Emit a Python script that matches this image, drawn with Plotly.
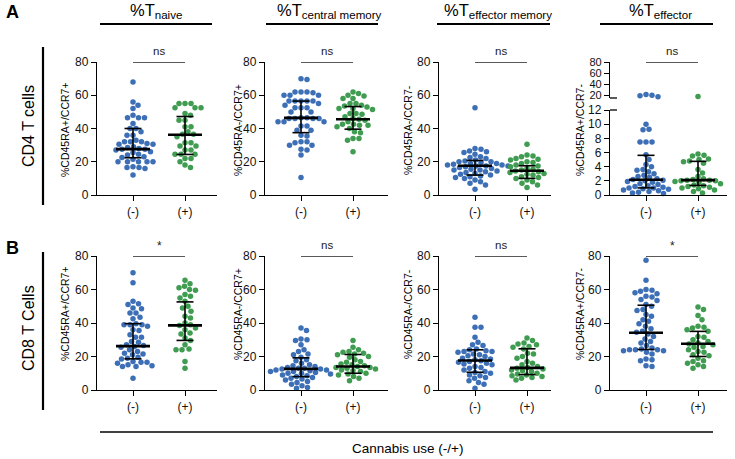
import numpy as np
import plotly.graph_objects as go

# ---- data ----
headers = ['naive', 'central memory', 'effector memory', 'effector']
y_titles = ['%CD45RA+/CCR7+', '%CD45RA-/CCR7+', '%CD45RA-/CCR7-', '%CD45RA+/CCR7-']
x_labels = ['(-)', '(+)']
cd4_sig = ['ns', 'ns', 'ns', 'ns']
cd8_sig = ['*', 'ns', 'ns', '*']

cd4_naive_neg = [68, 56, 54, 52, 48, 46.5, 46.5, 46.5, 43, 40, 40, 38, 36, 36, 33, 32, 32, 32, 31, 30.5,
                 30.5, 29, 28.5, 28, 27.5, 27.5, 27, 26, 25.5, 24.5, 24, 23, 22.5, 21.5, 20, 20, 20, 20,
                 20, 17, 16.5, 16.5, 16, 12]
cd4_naive_pos = [55, 55, 55, 52.5, 52.5, 52.5, 49, 48, 45, 45, 41, 41, 38, 36.5, 36.5, 35, 31.5, 31.5,
                 29.5, 29.5, 27, 27, 24.5, 24.5, 24.5, 22, 22, 20, 18, 16.5]
cd4_cm_neg = [70, 69.5, 62, 62, 62, 61.5, 60, 60, 60, 56.5, 56.5, 56.5, 56.5, 56.5, 55, 54, 52.5, 52.5,
              52.5, 50, 50, 46.5, 46.5, 46, 46, 46, 46, 44, 44, 44, 41.5, 41.5, 39, 39, 36, 35.5, 32,
              32, 31.5, 30, 30, 27.5, 27, 24, 10.5]
cd4_cm_pos = [62, 61, 60, 59.5, 58, 58, 55, 55, 54, 53.5, 53, 52, 52, 51.5, 49, 49, 48.5, 47, 46, 45.5,
              45, 44, 42.5, 42.5, 42, 42, 41, 40, 38, 37.5, 34, 34, 33, 26]
cd4_em_neg = [52.5, 28, 27.5, 26.5, 26, 25.5, 24.5, 23, 22.5, 22, 21, 20.5, 20, 20, 19.5, 19, 19, 18.5,
              18, 18, 17.5, 17.5, 17.5, 17, 16.5, 16, 15.5, 15, 15, 14.5, 14, 13.5, 13, 12.5, 12, 11.5,
              11, 10.5, 10, 9, 8, 7, 6, 3.5]
cd4_em_pos = [30.5, 24, 23.5, 23, 22, 21.5, 21, 20, 19.5, 19, 18, 17.5, 17, 16, 15.5, 15, 14.5, 14, 13.5,
              13, 12.5, 12, 11, 10.5, 10, 9, 8, 7, 6, 4.5]
cd4_eff_neg = [21, 19.5, 18.5, 17, 10, 9.3, 9.2, 7.5, 7.5, 7.5, 5.7, 5.0, 4.3, 4.0, 3.6, 3.5, 3.3, 3.0,
               2.8, 2.6, 2.5, 2.3, 2.2, 2.1, 2.0, 1.9, 1.8, 1.6, 1.5, 1.3, 1.2, 1.1, 1.0, 1.0, 0.9, 0.8,
               0.7, 0.6, 0.5, 0.4, 0.3, 0.2]
cd4_eff_pos = [17.5, 5.8, 5.6, 5.5, 5.1, 5.0, 4.8, 4.7, 4.5, 3.6, 3.1, 2.6, 2.3, 2.2, 2.1, 2.1, 2.0, 2.0,
               1.9, 1.8, 1.6, 1.4, 1.3, 1.2, 1.1, 1.0, 0.9, 0.7, 0.5, 0.3]

cd8_naive_neg = [70, 64, 53, 51.5, 51, 49, 48.5, 46, 46, 43.5, 42.5, 39.5, 39, 39, 39, 38, 36, 35.5, 33,
                 31.5, 31.5, 29, 28.5, 27, 26.5, 26, 25.5, 24, 23, 22, 21.5, 21, 19.5, 19, 18.5, 17, 16.5,
                 16.5, 16, 15, 14.5, 14, 14, 7]
cd8_naive_pos = [65.5, 63.5, 62, 61, 60, 59.5, 57, 56, 55, 53, 50, 49, 47, 44, 43, 40, 39, 38.5, 37, 36,
                 34, 33.5, 31, 29.5, 27, 24.5, 24, 24, 17, 13]
cd8_cm_neg = [37, 35.5, 30.5, 30, 29.5, 27, 24, 23, 21.5, 21, 19.5, 18, 17.5, 16, 15, 14.5, 14, 13.5, 13,
              13, 12.5, 12.5, 12, 12, 11.5, 11, 11, 10.5, 10, 10, 9.5, 9, 8.5, 8, 7.5, 7, 6.5, 6, 5, 4.5,
              3.5, 2.5, 1.5, 1]
cd8_cm_pos = [29.5, 25.5, 24, 23, 22.5, 22, 21.5, 21, 20, 19.5, 18, 17, 16.5, 15.5, 15, 14.5, 14, 13.5,
              13.5, 13, 12.5, 12, 11.5, 11, 10, 9.5, 9, 8, 7, 5.5]
cd8_em_neg = [43.5, 37.5, 37.5, 31.5, 28.5, 27, 26.5, 24.5, 24, 23.5, 23, 23, 22.5, 21.5, 21, 20.5, 20,
              19, 18.5, 18, 17.5, 17, 16.5, 16, 15.5, 15, 14, 13.5, 13, 12, 11, 10.5, 10, 9, 8.5, 7.5, 7,
              5.5, 4.5, 3.5, 1]
cd8_em_pos = [31, 29.5, 28, 27.5, 27, 26, 25.5, 24.5, 22, 21.5, 20, 19, 17, 16, 15, 14, 13.5, 13, 12.5,
              12, 11.5, 11, 10, 9.5, 9, 8.5, 8, 7.5, 7, 6]
cd8_eff_neg = [77.5, 65.5, 60, 59.5, 59, 58, 57.5, 56, 55.5, 54, 53.5, 51, 50, 48, 47.5, 45, 44, 42, 41,
               39.5, 38, 36.5, 35, 34.5, 33.5, 32, 30.5, 29, 28, 26.5, 25, 24.5, 24, 24, 24, 23.5, 23.5,
               22.5, 21.5, 18.5, 18, 17.5, 14.5, 14]
cd8_eff_pos = [49.5, 48, 44.5, 42, 38, 37.5, 37, 36, 35, 32, 31.5, 30, 29, 28, 27.5, 27, 26, 25.5, 24, 23,
               22.5, 21, 20.5, 19, 17.5, 17, 16, 15, 14, 13]

# median / interquartile range drawn in the reference
cd4_med_neg = [27.6, 46.4, 17.6, 2.15]
cd4_q1_neg = [22.4, 37.5, 12.0, 1.0]
cd4_q3_neg = [40.0, 56.5, 20.8, 5.6]
cd4_med_pos = [36.2, 45.6, 14.6, 2.1]
cd4_q1_pos = [24.4, 39.6, 10.0, 1.35]
cd4_q3_pos = [47.2, 53.2, 17.6, 4.75]
cd8_med_neg = [26.2, 12.6, 17.6, 34.2]
cd8_q1_neg = [18.6, 8.0, 10.6, 24.2]
cd8_q3_neg = [39.6, 19.2, 24.0, 50.6]
cd8_med_pos = [38.6, 14.0, 13.2, 27.6]
cd8_q1_pos = [29.6, 10.0, 9.2, 20.0]
cd8_q3_pos = [52.6, 21.2, 24.6, 35.0]

W, H = 735, 459
BLUE = '#3d6fb6'
GREEN = '#3f9c50'
FONT = 'Liberation Sans, Arial, sans-serif'


def px(x):
    return x / W


def py(y):
    return 1 - y / H


def swarm(pix, step=0.5, dmin=5.7):
    # simple beeswarm in pixel space, returns horizontal offsets in px
    pix = np.asarray(pix, float)
    order = np.argsort(pix)
    cands = [0.0]
    for k in range(1, 140):
        cands += [k * step, -k * step]
    placed = []
    off = np.zeros(len(pix))
    for i in order:
        for c in cands:
            if all((c - ox) ** 2 + (pix[i] - oy) ** 2 >= dmin ** 2 for ox, oy in placed):
                off[i] = c
                placed.append((c, pix[i]))
                break
    return off


x0s = [97, 265, 439, 610]
x_ends = [217, 388, 551, 727]
UNIT = 52.0  # px between the two groups
rows = [dict(top=62, bot=195), dict(top=256, bot=390)]

cd4 = [(cd4_naive_neg, cd4_naive_pos), (cd4_cm_neg, cd4_cm_pos),
       (cd4_em_neg, cd4_em_pos), (cd4_eff_neg, cd4_eff_pos)]
cd8 = [(cd8_naive_neg, cd8_naive_pos), (cd8_cm_neg, cd8_cm_pos),
       (cd8_em_neg, cd8_em_pos), (cd8_eff_neg, cd8_eff_pos)]
stats = [
    (cd4_med_neg, cd4_q1_neg, cd4_q3_neg, cd4_med_pos, cd4_q1_pos, cd4_q3_pos),
    (cd8_med_neg, cd8_q1_neg, cd8_q3_neg, cd8_med_pos, cd8_q1_pos, cd8_q3_pos),
]

# broken axis for CD4 effector panel
LOW_TOP, LOW_MAX = 110, 12
UP_BOT, UP_MIN = 98, 14.55

fig = go.Figure()
layout = dict(width=W, height=H, margin=dict(l=0, r=0, t=0, b=0), autosize=False,
              paper_bgcolor='white', plot_bgcolor='white', showlegend=False,
              font=dict(family=FONT, color='black'))

axis_common = dict(showline=True, linecolor='black', linewidth=1.3, ticks='outside', ticklen=5,
                   tickwidth=1.3, tickcolor='black', showgrid=False, zeroline=False, automargin=False,
                   tickfont=dict(size=12, family=FONT, color='#111'), fixedrange=True)

annotations = []
shapes = []


def note(x, y, text, size, angle=0, xa='center', ya='middle', **kw):
    annotations.append(dict(xref='paper', yref='paper', x=px(x), y=py(y), text=text, showarrow=False,
                            xanchor=xa, yanchor=ya, textangle=angle, font=dict(size=size), **kw))


for r, (row_data, row_sig) in enumerate([(cd4, cd4_sig), (cd8, cd8_sig)]):
    top, bot = rows[r]['top'], rows[r]['bot']
    med_n, q1_n, q3_n, med_p, q1_p, q3_p = stats[r]
    for c in range(4):
        k = r * 4 + c + 1
        x0, xe = x0s[c], x_ends[c]
        layout[f'xaxis{k}'] = dict(axis_common, domain=[px(x0), px(xe)],
                                   range=[-36 / UNIT, (xe - x0 - 36) / UNIT], anchor=f'y{k}',
                                   tickvals=[0, 1], ticktext=x_labels)
        broken = (r == 0 and c == 3)
        if broken:
            layout[f'yaxis{k}'] = dict(axis_common, domain=[py(bot), py(LOW_TOP)], range=[0, LOW_MAX],
                                       anchor=f'x{k}', tickvals=list(range(0, 13, 2)))
            layout['yaxis9'] = dict(axis_common, domain=[py(UP_BOT), py(top)], range=[UP_MIN, 80],
                                    anchor=f'x{k}', tickvals=[20, 40, 60, 80],
                                    tickfont=dict(size=11, family=FONT, color='#111'))

            def topix(v):
                v = np.asarray(v, float)
                low = bot - v * (bot - LOW_TOP) / LOW_MAX
                up = UP_BOT - (v - UP_MIN) * (UP_BOT - top) / (80 - UP_MIN)
                return np.where(v <= LOW_MAX, low, up)
        else:
            layout[f'yaxis{k}'] = dict(axis_common, domain=[py(bot), py(top)], range=[0, 80],
                                       anchor=f'x{k}', tickvals=[0, 20, 40, 60, 80])

            def topix(v, bot=bot, top=top):
                return bot - np.asarray(v, float) * (bot - top) / 80

        for g, (vals, col) in enumerate(zip(row_data[c], [BLUE, GREEN])):
            vals = np.asarray(vals, float)
            off = swarm(topix(vals)) / UNIT
            xs = g + off
            mk = dict(size=5.5, color=col, line=dict(width=0))
            if broken:
                lo = vals <= LOW_MAX
                fig.add_trace(go.Scatter(x=xs[lo], y=vals[lo], mode='markers', xaxis=f'x{k}',
                                         yaxis=f'y{k}', cliponaxis=False, marker=mk))
                fig.add_trace(go.Scatter(x=xs[~lo], y=vals[~lo], mode='markers', xaxis=f'x{k}',
                                         yaxis='y9', cliponaxis=False, marker=mk))
            else:
                fig.add_trace(go.Scatter(x=xs, y=vals, mode='markers', xaxis=f'x{k}', yaxis=f'y{k}',
                                         cliponaxis=False, marker=mk))

        # median + IQR
        hw, cw = 17 / UNIT, 8.5 / UNIT
        wx, wy, mx, my = [], [], [], []
        for g, (m, a, b) in enumerate([(med_n[c], q1_n[c], q3_n[c]), (med_p[c], q1_p[c], q3_p[c])]):
            wx += [g, g, None, g - cw, g + cw, None, g - cw, g + cw, None]
            wy += [a, b, None, a, a, None, b, b, None]
            mx += [g - hw, g + hw, None]
            my += [m, m, None]
        fig.add_trace(go.Scatter(x=wx, y=wy, mode='lines', xaxis=f'x{k}', yaxis=f'y{k}',
                                 line=dict(color='black', width=1.6), cliponaxis=False))
        fig.add_trace(go.Scatter(x=mx, y=my, mode='lines', xaxis=f'x{k}', yaxis=f'y{k}',
                                 line=dict(color='black', width=2.6), cliponaxis=False))

        # significance bar
        sy = 'y9' if broken else f'y{k}'
        shapes.append(dict(type='line', xref=f'x{k}', yref=sy, x0=0, x1=1, y0=80, y1=80,
                           line=dict(color='#222', width=1.4)))
        s = row_sig[c]
        annotations.append(dict(xref=f'x{k}', yref=sy, x=0.5, y=80, text=s, showarrow=False,
                                xanchor='center', yanchor='bottom', yshift=3 if s == 'ns' else 1,
                                font=dict(size=11.5 if s == 'ns' else 12, color='#222')))

        # y-axis title
        note([65, 238, 408, 580][c], [130, 314][r], y_titles[c], 10.5, angle=-90)

# broken-axis end marks
for yb in [UP_BOT, LOW_TOP]:
    shapes.append(dict(type='line', xref='paper', yref='paper', x0=px(610), x1=px(617),
                       y0=py(yb), y1=py(yb), line=dict(color='black', width=1.3)))

# column headers
head_x = [128, 275, 442, 627]
head_line = [(100, 212), (266, 378), (437, 550), (600, 713)]
for i, name in enumerate(headers):
    note(head_x[i], 11, f'%T<sub>{name}</sub>', 16.5, xa='left')
    a, b = head_line[i]
    shapes.append(dict(type='line', xref='paper', yref='paper', x0=px(a), x1=px(b), y0=py(24),
                       y1=py(24), line=dict(color='black', width=2.2)))

# row labels and brackets
for lab, letter, ly, ry, (v0, v1) in [('CD4 T cells', 'A', 12, 126, (47, 205)),
                                      ('CD8 T Cells', 'B', 248, 328, (252, 410))]:
    note(12, ly, f'<b>{letter}</b>', 18)
    note(28, ry, lab, 16, angle=-90)
    shapes.append(dict(type='line', xref='paper', yref='paper', x0=px(43), x1=px(43), y0=py(v0),
                       y1=py(v1), line=dict(color='black', width=2.2)))

# bottom label
shapes.append(dict(type='line', xref='paper', yref='paper', x0=px(100), x1=px(713), y0=py(432),
                   y1=py(432), line=dict(color='black', width=1.6)))
note(407, 448, 'Cannabis use (-/+)', 13.5)

layout['annotations'] = annotations
layout['shapes'] = shapes
fig.update_layout(**layout)

# page body has a default margin; remove it so the figure sits at the window origin
fig.write_html("out.html", config={'displayModeBar': False},
               post_script="document.body.style.margin='0';")
